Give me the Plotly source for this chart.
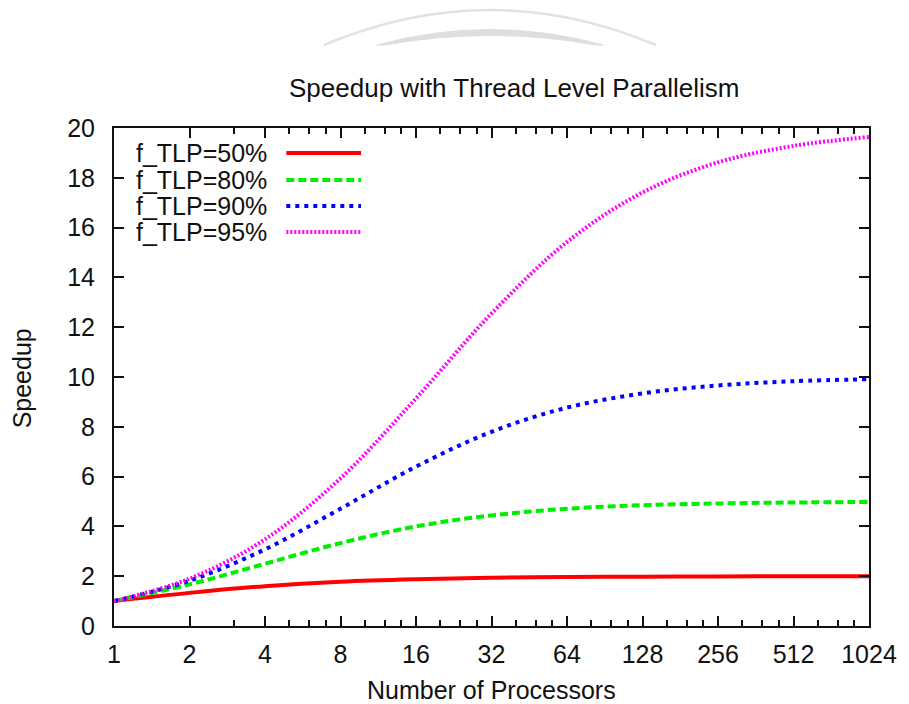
import plotly.graph_objects as go

# ---- data ----
processors = [1, 2, 4, 8, 16, 32, 64, 128, 256, 512, 1024]
series_names = ["f_TLP=50%", "f_TLP=80%", "f_TLP=90%", "f_TLP=95%"]
speedup_50 = [1.0, 1.33, 1.6, 1.78, 1.88, 1.94, 1.97, 1.98, 1.99, 2.0, 2.0]
speedup_80 = [1.0, 1.67, 2.5, 3.33, 4.0, 4.44, 4.71, 4.85, 4.92, 4.96, 4.98]
speedup_90 = [1.0, 1.82, 3.08, 4.71, 6.4, 7.8, 8.77, 9.34, 9.66, 9.83, 9.91]
speedup_95 = [1.0, 1.9, 3.48, 5.93, 9.14, 12.55, 15.42, 17.41, 18.62, 19.28, 19.64]
x_tick_labels = ["1", "2", "4", "8", "16", "32", "64", "128", "256", "512", "1024"]
y_ticks = [0, 2, 4, 6, 8, 10, 12, 14, 16, 18, 20]
minor_x = [3, 5, 6, 7, 10, 12, 14, 20, 24, 28, 40, 48, 56, 80, 96, 112,
           160, 192, 224, 320, 384, 448, 640, 768, 896]

colors = ["#ff0000", "#00ee00", "#0000ff", "#ff00ff"]
dashes = ["solid", "8px,4px", "4px,5px", "2px,2px"]
widths = [4, 4, 4, 4]

FONT = "Liberation Sans, Arial, Helvetica, sans-serif"
FS = 25

# page offset (browser body margin) compensation
OFF = 8
W, H = 909 - OFF, 704 - OFF
# plot box in window pixels
PL, PR, PT, PB = 114, 872, 128, 626
L, R, T, B = PL - OFF, 909 - PR, PT - OFF, 704 - PB
pw, ph = PR - PL, PB - PT

def px(x):
    return (x - PL) / pw

def py(y):
    return (PB - y) / ph

fig = go.Figure()
all_series = [speedup_50, speedup_80, speedup_90, speedup_95]
for name, ys, c, d, w in zip(series_names, all_series, colors, dashes, widths):
    fig.add_trace(go.Scatter(
        x=processors, y=ys, mode="lines", name=name,
        line=dict(color=c, width=w, dash=d, shape="spline", smoothing=1.0),
        showlegend=False,
    ))

shapes = []
annotations = []

# gnuplot-style legend: text right-aligned, sample on the right
legend_rows = [153, 180, 206, 232]
for name, c, d, w, yy in zip(series_names, colors, dashes, widths, legend_rows):
    annotations.append(dict(
        x=px(270), y=py(yy), xref="paper", yref="paper", text=name,
        showarrow=False, xanchor="right", yanchor="middle",
        font=dict(family=FONT, size=FS, color="#111")))
    shapes.append(dict(
        type="line", xref="paper", yref="paper",
        x0=px(287), x1=px(362), y0=py(yy), y1=py(yy),
        line=dict(color=c, width=w, dash=d)))

# decorative grey arcs at the top
def pt(x, y):
    return f"{px(x):.5f},{py(y):.5f}"

shapes.append(dict(
    type="path", xref="paper", yref="paper",
    path=f"M {pt(325,45)} Q {pt(492,-25)} {pt(658,45)}",
    line=dict(color="#e2e2e2", width=2.5)))
shapes.append(dict(
    type="path", xref="paper", yref="paper",
    path=f"M {pt(378,45)} Q {pt(492,14)} {pt(605,45)} L {pt(598,45)} Q {pt(492,26)} {pt(386,45)} Z",
    fillcolor="#dedede", line=dict(color="#dedede", width=1)))

annotations.append(dict(
    x=px(516), y=py(88), xref="paper", yref="paper",
    text="Speedup with Thread Level Parallelism", showarrow=False,
    xanchor="center", yanchor="middle",
    font=dict(family=FONT, size=26, color="#111")))
annotations.append(dict(
    x=px(493), y=py(690), xref="paper", yref="paper",
    text="Number of Processors", showarrow=False,
    xanchor="center", yanchor="middle",
    font=dict(family=FONT, size=FS, color="#111")))
annotations.append(dict(
    x=px(22), y=py(378), xref="paper", yref="paper",
    text="Speedup", showarrow=False, textangle=-90,
    xanchor="center", yanchor="middle",
    font=dict(family=FONT, size=FS, color="#111")))

fig.update_layout(
    width=W, height=H,
    margin=dict(l=L, r=R, t=T, b=B, pad=0),
    paper_bgcolor="white", plot_bgcolor="white",
    shapes=shapes, annotations=annotations,
    showlegend=False,
)
fig.update_xaxes(
    type="log", range=[0, 3.0103],
    tickmode="array", tickvals=processors, ticktext=x_tick_labels,
    ticks="inside", ticklen=10, tickwidth=1.5, tickcolor="#111",
    showline=True, linecolor="#111", linewidth=2, mirror="allticks",
    showgrid=False, zeroline=False,
    tickfont=dict(family=FONT, size=FS, color="#111"),
    ticklabelstandoff=5,
    minor=dict(tickmode="array", tickvals=minor_x, ticks="inside",
               ticklen=6, tickwidth=1.5, tickcolor="#111", showgrid=False),
)
fig.update_yaxes(
    range=[0, 20], tickmode="array", tickvals=y_ticks,
    ticks="inside", ticklen=10, tickwidth=1.5, tickcolor="#111",
    showline=True, linecolor="#111", linewidth=2, mirror="allticks",
    showgrid=False, zeroline=False,
    tickfont=dict(family=FONT, size=FS, color="#111"),
    ticklabelstandoff=12,
)

fig.write_html("out.html")
